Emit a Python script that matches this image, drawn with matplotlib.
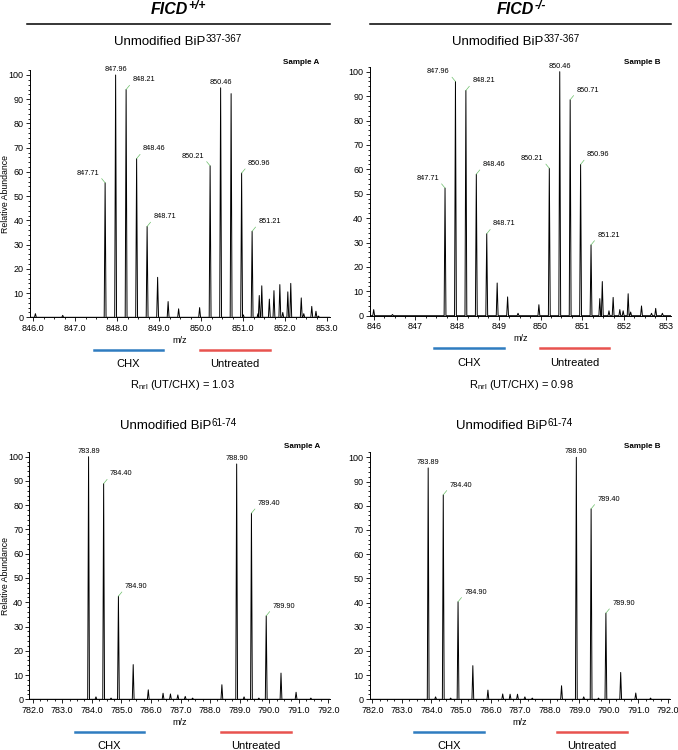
import matplotlib
matplotlib.use("Agg")
import matplotlib.pyplot as plt
from matplotlib.ticker import MultipleLocator, AutoMinorLocator, FormatStrFormatter
from matplotlib.lines import Line2D

plt.rcParams['font.family'] = ['Liberation Sans', 'DejaVu Sans']
plt.rcParams['mathtext.fontset'] = 'custom'
plt.rcParams['mathtext.rm'] = 'Liberation Sans'

W, H = 678, 750

# ---- data (m/z centroid, relative abundance) ----
a337_mz = [846.05, 846.70, 847.71, 847.96, 848.21, 848.46, 848.71, 848.96, 849.21, 849.46,
           849.96, 850.21, 850.46, 850.71, 850.96, 851.00, 851.21, 851.35, 851.38, 851.44,
           851.62, 851.73, 851.87, 851.94, 852.06, 852.13, 852.38, 852.44, 852.63, 852.73, 852.79]
a337_int = [1.5, 0.8, 55.5, 100, 94, 65.5, 37.5, 16.5, 6.5, 3.5,
            4, 62.5, 94.7, 92.3, 59.5, 1, 35.5, 1.5, 9, 13,
            7.5, 11, 13.5, 2, 10.5, 14, 8, 1.5, 4.5, 2.5, 0.5]
a337_lab = [847.71, 847.96, 848.21, 848.46, 848.71, 850.21, 850.46, 850.96, 851.21]

b337_mz = [846.00, 846.45, 847.71, 847.96, 848.21, 848.46, 848.71, 848.96, 849.21, 849.46,
           849.96, 850.21, 850.46, 850.71, 850.96, 851.21, 851.42, 851.48, 851.64, 851.74,
           851.90, 851.98, 852.10, 852.16, 852.42, 852.66, 852.76, 852.92]
b337_int = [2.5, 0.5, 52.3, 96, 92.3, 58, 33.6, 13.4, 7.7, 1,
            4.5, 60.4, 100, 88.5, 62, 29, 7, 14, 2, 7.5,
            2.5, 2, 9, 1.5, 4, 1, 3, 1]
b337_lab = [847.71, 847.96, 848.21, 848.46, 848.71, 850.21, 850.46, 850.71, 850.96, 851.21]

a61_mz = [783.89, 784.14, 784.40, 784.65, 784.90, 785.40, 785.91, 786.41, 786.66, 786.91,
          787.16, 787.41, 788.40, 788.90, 789.15, 789.40, 789.65, 789.90, 790.40, 790.91, 791.41]
a61_int = [100, 1, 88.9, 0.5, 42.5, 14.3, 3.9, 2.5, 2.2, 1.8,
           1.2, 0.5, 6, 97, 1, 76.7, 0.5, 34.4, 10.8, 2.9, 0.5]
a61_lab = [783.89, 784.40, 784.90, 788.90, 789.40, 789.90]

b61_mz = a61_mz
b61_int = [95.6, 1, 84.5, 0.5, 40.3, 13.9, 3.8, 2.2, 2.1, 2.1,
           1, 0.5, 5.6, 100, 1, 78.7, 0.5, 35.6, 11.1, 2.6, 0.5]
b61_lab = [783.89, 784.40, 784.90, 788.90, 789.40, 789.90]

genotypes = ['+/+', '-/-']
samples = ['Sample A', 'Sample B']
peptides = ['337-367', '61-74']
ratios = [1.03, 0.98]

GREEN = '#6cbf6a'
BLUE = '#2f7cc0'
RED = '#e8534f'


def px(x, y):
    return x / W, 1 - y / H


def make_ax(xp, xv, yp, xlim, ylim):
    # xp: pixel pos of two x ticks, xv: their values, yp: pixels of y=0 and y=100
    sx = (xp[1] - xp[0]) / (xv[1] - xv[0])
    left = xp[0] + (xlim[0] - xv[0]) * sx
    right = xp[0] + (xlim[1] - xv[0]) * sx
    sy = (yp[0] - yp[1]) / 100.0
    bot = yp[0] - ylim[0] * sy
    top = yp[0] - ylim[1] * sy
    ax = fig.add_axes([left / W, 1 - bot / H, (right - left) / W, (bot - top) / H])
    ax.set_xlim(*xlim)
    ax.set_ylim(*ylim)
    return ax


def profile(mz, inten, xlim, hw):
    xs, ys = [xlim[0]], [0]
    for m, h in sorted(zip(mz, inten)):
        xs += [m - hw, m, m + hw]
        ys += [0, h, 0]
    xs.append(xlim[1])
    ys.append(0)
    return xs, ys


def draw(ax, mz, inten, labels, sides, hw, fmt, ylab):
    xs, ys = profile(mz, inten, ax.get_xlim(), hw)
    ax.plot(xs, ys, color='black', lw=0.7)
    for lab, side in zip(labels, sides):
        h = inten[mz.index(lab)]
        txt = '%.2f' % lab
        if side == 'T':
            ax.annotate(txt, (lab, h), xytext=(0, 1.5), textcoords='offset points',
                        ha='center', va='bottom', fontsize=5.3)
        elif side == 'R':
            ax.annotate(txt, (lab, h), xytext=(4.5, 4.5), textcoords='offset points',
                        ha='left', va='bottom', fontsize=5.3,
                        arrowprops=dict(arrowstyle='-', color=GREEN, lw=0.5,
                                        shrinkA=0, shrinkB=0, relpos=(0, 0.2)))
        else:
            ax.annotate(txt, (lab, h), xytext=(-4.5, 4.5), textcoords='offset points',
                        ha='right', va='bottom', fontsize=5.3,
                        arrowprops=dict(arrowstyle='-', color=GREEN, lw=0.5,
                                        shrinkA=0, shrinkB=0, relpos=(1, 0.2)))
    for s in ['top', 'right']:
        ax.spines[s].set_visible(False)
    for s in ['left', 'bottom']:
        ax.spines[s].set_linewidth(0.7)
    ax.xaxis.set_major_locator(MultipleLocator(1.0))
    ax.xaxis.set_major_formatter(FormatStrFormatter(fmt))
    ax.xaxis.set_minor_locator(AutoMinorLocator(4))
    ax.yaxis.set_major_locator(MultipleLocator(10))
    ax.yaxis.set_minor_locator(AutoMinorLocator(5))
    ax.tick_params(which='both', direction='out', width=0.6, labelsize=6.5, pad=1.5)
    ax.tick_params(which='major', length=3)
    ax.tick_params(which='minor', length=1.5)
    ax.set_xlabel('m/z', fontsize=6.5, labelpad=2.5)
    if ylab:
        ax.set_ylabel('Relative Abundance', fontsize=6.3)
        pos = ax.get_position()
        ax.yaxis.set_label_coords((10 / W - pos.x0) / pos.width, 0.5)


def sup_text(cx, cy, base, sup, size, raise_=0.3, **kw):
    # base text with a raised superscript, the pair centred on (cx, cy) in pixels
    r = fig.canvas.get_renderer()
    t1 = fig.text(0, 0, base, fontsize=size, va='center', ha='left', **kw)
    t2 = fig.text(0, 0, sup, fontsize=size * 0.75, va='center', ha='left', **kw)
    w1 = t1.get_window_extent(r).width
    w2 = t2.get_window_extent(r).width
    x0 = cx - (w1 + w2) / 2
    t1.set_position(px(x0, cy))
    t2.set_position(px(x0 + w1 + 0.5, cy - size * raise_))


fig = plt.figure(figsize=(W / 100, H / 100), dpi=100)

ax1 = make_ax((33.3, 327.3), (846, 853), (317.3, 75), (845.92, 853.07), (0, 102))
draw(ax1, a337_mz, a337_int, a337_lab, ['L', 'T', 'R', 'R', 'R', 'L', 'T', 'R', 'R'],
     0.022, '%.1f', True)
ax2 = make_ax((373.7, 665.7), (846, 853), (315.7, 71.7), (845.9, 853.13), (0, 102))
draw(ax2, b337_mz, b337_int, b337_lab, ['L', 'L', 'R', 'R', 'R', 'L', 'T', 'R', 'R', 'R'],
     0.022, '%d', False)
ax3 = make_ax((32.7, 328.3), (782, 792), (699.3, 456.7), (781.89, 792.06), (0, 102))
draw(ax3, a61_mz, a61_int, a61_lab, ['T', 'R', 'R', 'T', 'R', 'R'],
     0.03, '%.1f', True)
ax4 = make_ax((372.3, 668.0), (782, 792), (699.3, 457.3), (781.91, 792.08), (0, 102))
draw(ax4, b61_mz, b61_int, b61_lab, ['T', 'R', 'R', 'T', 'R', 'R'],
     0.03, '%.1f', False)

# headers
for cx, (l0, l1), g in [(178, (27, 330), genotypes[0]), (521, (370, 671), genotypes[1])]:
    sup_text(cx, 9, 'FICD', g, 11.5, raise_=0.3, fontweight='bold', fontstyle='italic')
    fig.add_artist(Line2D([l0 / W, l1 / W], [1 - 24 / H, 1 - 24 / H], color='black', lw=1.1))

# panel titles and sample tags
for cx, y, pep in [(178, 42, peptides[0]), (516, 42, peptides[0]),
                   (178, 426, peptides[1]), (514, 426, peptides[1])]:
    sup_text(cx, y, 'Unmodified BiP', pep, 9.5, raise_=0.35)
for rx, y, s in [(319, 63, samples[0]), (660, 63, samples[1]),
                 (320, 447, samples[0]), (660, 447, samples[1])]:
    fig.text(*px(rx, y), s, ha='right', va='center', fontsize=5.8, fontweight='bold')

# treatment bars
bars = [(350, (94, 163), (200, 270), 364), (348, (434, 504), (540, 609), 363),
        (732, (75, 144), (221, 291), 746), (732, (414, 484), (557, 627), 746)]
for y, (b0, b1), (r0, r1), ty in bars:
    fig.add_artist(Line2D([b0 / W, b1 / W], [1 - y / H] * 2, color=BLUE, lw=1.8))
    fig.add_artist(Line2D([r0 / W, r1 / W], [1 - y / H] * 2, color=RED, lw=1.8))
    fig.text(*px((b0 + b1) / 2, ty), 'CHX', ha='center', va='center', fontsize=8)
    fig.text(*px((r0 + r1) / 2, ty), 'Untreated', ha='center', va='center', fontsize=8)

for cx, r in [(182, ratios[0]), (521, ratios[1])]:
    fig.text(*px(cx, 385), r'R$_{\mathregular{nrl}}$ (UT/CHX) = %.2f' % r, ha='center',
             va='center', fontsize=8)

fig.savefig('out.png', dpi=100)
